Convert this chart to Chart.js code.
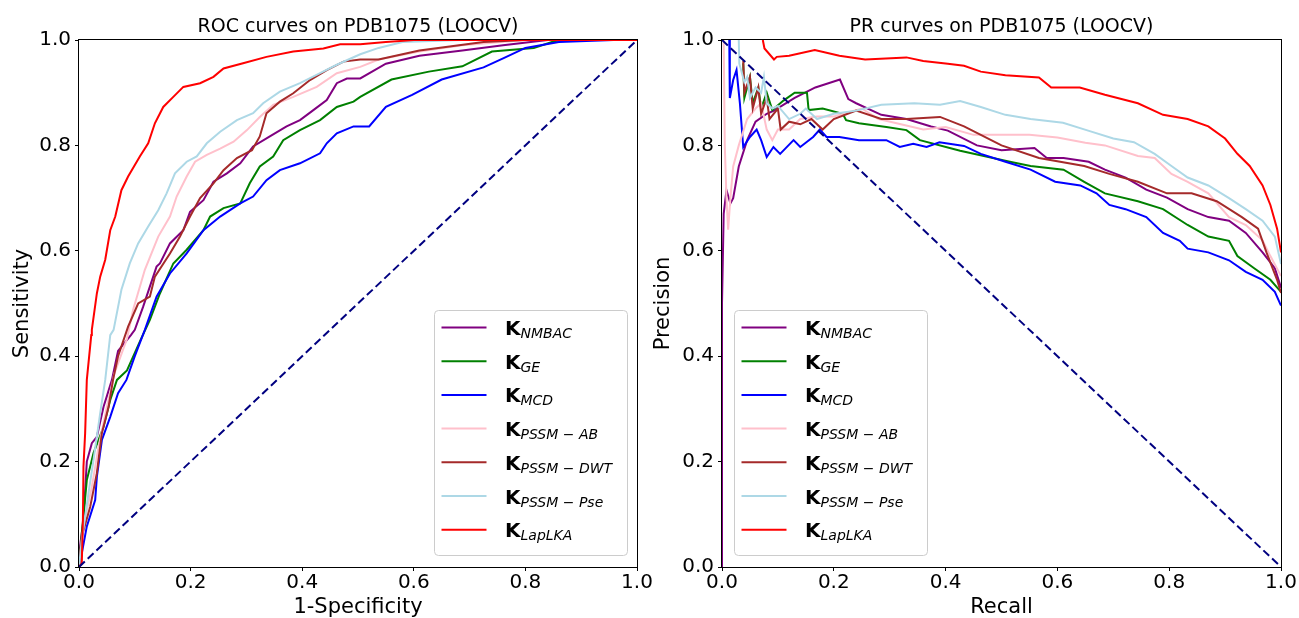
<!DOCTYPE html>
<html>
<head>
<meta charset="utf-8">
<script src="https://cdn.jsdelivr.net/npm/chart.js@4.4.1/dist/chart.umd.min.js"></script>
<style>
  body { margin: 0; background: #fff; width: 1299px; height: 618px; overflow: hidden; position: relative; }
  canvas { position: absolute; top: 0; }
  #rocChart { left: 0; }
  #prChart { left: 650px; }
</style>
</head>
<body>
<canvas id="rocChart" width="662" height="618"></canvas>
<canvas id="prChart" width="649" height="618"></canvas>
<script>
// Kernel names (subscripts of K) and line colours, same order as the legend.
const methods = ['NMBAC', 'GE', 'MCD', 'PSSM \u2212 AB', 'PSSM \u2212 DWT', 'PSSM \u2212 Pse', 'LapLKA'];
const colors = ['purple', 'green', 'blue', 'pink', 'brown', 'lightblue', 'red'];
const tickValues = [0.0, 0.2, 0.4, 0.6, 0.8, 1.0];

// ROC curves: [1-specificity, sensitivity]
const rocNMBAC = [[0,0],[0.002,0.04],[0.008,0.09],[0.014,0.2],[0.023,0.235],[0.032,0.247],[0.044,0.304],[0.059,0.355],[0.07,0.41],[0.093,0.44],[0.1,0.45],[0.115,0.494],[0.139,0.57],[0.145,0.576],[0.163,0.614],[0.187,0.639],[0.199,0.674],[0.223,0.696],[0.241,0.731],[0.265,0.747],[0.289,0.766],[0.312,0.798],[0.342,0.817],[0.372,0.836],[0.396,0.848],[0.42,0.867],[0.444,0.886],[0.462,0.918],[0.48,0.927],[0.504,0.927],[0.55,0.955],[0.61,0.97],[0.687,0.98],[0.76,0.99],[0.84,1.0],[1,1]];
const rocGE = [[0,0],[0.005,0.063],[0.014,0.165],[0.026,0.216],[0.044,0.266],[0.056,0.317],[0.068,0.355],[0.086,0.373],[0.11,0.43],[0.127,0.469],[0.145,0.519],[0.169,0.576],[0.193,0.602],[0.223,0.639],[0.235,0.665],[0.259,0.681],[0.289,0.69],[0.306,0.728],[0.324,0.76],[0.348,0.779],[0.366,0.81],[0.396,0.829],[0.432,0.848],[0.462,0.873],[0.492,0.883],[0.504,0.892],[0.56,0.925],[0.627,0.94],[0.687,0.95],[0.74,0.978],[0.815,0.985],[0.853,0.998],[0.88,1.0],[1,1]];
const rocMCD = [[0,0],[0.005,0.026],[0.014,0.077],[0.029,0.127],[0.032,0.171],[0.041,0.241],[0.056,0.285],[0.07,0.33],[0.085,0.355],[0.1,0.4],[0.118,0.45],[0.139,0.513],[0.163,0.557],[0.193,0.595],[0.223,0.639],[0.253,0.665],[0.289,0.69],[0.312,0.703],[0.336,0.734],[0.36,0.753],[0.396,0.766],[0.432,0.785],[0.444,0.804],[0.462,0.823],[0.492,0.836],[0.52,0.836],[0.55,0.873],[0.597,0.896],[0.65,0.925],[0.725,0.948],[0.762,0.966],[0.8,0.985],[0.86,0.996],[0.958,1.0],[1,1]];
const rocAB = [[0,0],[0.008,0.077],[0.023,0.152],[0.035,0.228],[0.05,0.304],[0.061,0.355],[0.063,0.366],[0.086,0.433],[0.097,0.488],[0.118,0.564],[0.142,0.627],[0.163,0.665],[0.175,0.703],[0.193,0.741],[0.208,0.769],[0.229,0.782],[0.253,0.794],[0.277,0.807],[0.301,0.829],[0.324,0.854],[0.348,0.877],[0.384,0.892],[0.426,0.911],[0.462,0.937],[0.504,0.949],[0.537,0.963],[0.61,0.978],[0.687,0.99],[0.8,1.0],[1,1]];
const rocDWT = [[0,0],[0.005,0.058],[0.02,0.114],[0.032,0.178],[0.041,0.254],[0.053,0.304],[0.061,0.355],[0.07,0.4],[0.088,0.456],[0.106,0.5],[0.127,0.513],[0.136,0.551],[0.163,0.595],[0.181,0.627],[0.199,0.665],[0.217,0.7],[0.241,0.728],[0.259,0.753],[0.283,0.776],[0.31,0.791],[0.324,0.817],[0.336,0.861],[0.36,0.883],[0.384,0.899],[0.414,0.924],[0.444,0.943],[0.474,0.959],[0.504,0.963],[0.537,0.963],[0.61,0.98],[0.725,0.996],[0.8,1.0],[1,1]];
const rocPse = [[0,0],[0.005,0.051],[0.017,0.14],[0.026,0.203],[0.038,0.292],[0.047,0.355],[0.056,0.44],[0.062,0.45],[0.076,0.526],[0.091,0.576],[0.106,0.614],[0.124,0.646],[0.142,0.677],[0.157,0.709],[0.172,0.747],[0.193,0.769],[0.211,0.779],[0.229,0.804],[0.253,0.826],[0.283,0.848],[0.312,0.861],[0.33,0.88],[0.36,0.902],[0.396,0.918],[0.432,0.937],[0.462,0.953],[0.504,0.973],[0.537,0.985],[0.58,0.996],[0.687,1.0],[1,1]];
const rocLapLKA = [[0,0],[0.005,0.007],[0.007,0.09],[0.008,0.19],[0.011,0.254],[0.014,0.355],[0.022,0.44],[0.023,0.45],[0.032,0.519],[0.038,0.551],[0.047,0.583],[0.056,0.639],[0.065,0.665],[0.076,0.715],[0.088,0.741],[0.109,0.779],[0.124,0.804],[0.136,0.842],[0.151,0.873],[0.169,0.892],[0.187,0.911],[0.217,0.918],[0.241,0.93],[0.259,0.946],[0.294,0.956],[0.336,0.968],[0.384,0.978],[0.438,0.984],[0.468,0.992],[0.504,0.992],[0.55,0.996],[0.6,1.0],[1,1]];

// PR curves: [recall, precision]
const prNMBAC = [[0,0],[0,0.5],[0.003,0.67],[0.008,0.715],[0.015,0.69],[0.02,0.7],[0.03,0.76],[0.045,0.81],[0.06,0.845],[0.08,0.86],[0.093,0.866],[0.13,0.89],[0.167,0.91],[0.211,0.925],[0.226,0.888],[0.24,0.88],[0.285,0.858],[0.33,0.85],[0.374,0.836],[0.404,0.828],[0.456,0.8],[0.5,0.791],[0.559,0.795],[0.581,0.776],[0.611,0.776],[0.656,0.769],[0.685,0.754],[0.722,0.739],[0.759,0.716],[0.796,0.701],[0.833,0.679],[0.87,0.664],[0.907,0.657],[0.937,0.634],[0.967,0.597],[0.989,0.567],[1.0,0.53]];
const prGE = [[0.038,0.956],[0.04,0.89],[0.05,0.93],[0.055,0.88],[0.065,0.91],[0.07,0.87],[0.08,0.9],[0.09,0.867],[0.11,0.885],[0.13,0.9],[0.152,0.9],[0.155,0.867],[0.18,0.87],[0.216,0.86],[0.222,0.848],[0.245,0.842],[0.294,0.835],[0.33,0.829],[0.354,0.81],[0.426,0.79],[0.515,0.769],[0.552,0.761],[0.611,0.754],[0.648,0.731],[0.685,0.709],[0.744,0.694],[0.789,0.679],[0.833,0.649],[0.87,0.627],[0.907,0.619],[0.922,0.59],[0.952,0.567],[0.981,0.545],[1.0,0.522]];
const prMCD = [[0.013,1.0],[0.014,0.89],[0.02,0.924],[0.026,0.943],[0.032,0.88],[0.038,0.797],[0.05,0.816],[0.062,0.83],[0.07,0.81],[0.08,0.778],[0.092,0.797],[0.104,0.784],[0.128,0.81],[0.14,0.797],[0.163,0.816],[0.175,0.83],[0.187,0.816],[0.21,0.816],[0.245,0.81],[0.294,0.81],[0.318,0.797],[0.342,0.803],[0.366,0.797],[0.389,0.806],[0.433,0.799],[0.463,0.784],[0.507,0.769],[0.552,0.754],[0.596,0.731],[0.641,0.724],[0.67,0.709],[0.693,0.687],[0.722,0.679],[0.759,0.664],[0.789,0.634],[0.819,0.619],[0.833,0.604],[0.87,0.597],[0.907,0.582],[0.937,0.56],[0.967,0.545],[0.989,0.522],[1.0,0.496]];
const prAB = [[0.003,1.0],[0.005,0.8],[0.008,0.7],[0.011,0.64],[0.015,0.7],[0.02,0.76],[0.03,0.8],[0.045,0.85],[0.06,0.87],[0.07,0.88],[0.08,0.83],[0.09,0.81],[0.1,0.83],[0.12,0.83],[0.14,0.85],[0.17,0.855],[0.2,0.855],[0.25,0.87],[0.28,0.85],[0.32,0.84],[0.36,0.83],[0.4,0.835],[0.45,0.82],[0.5,0.82],[0.55,0.82],[0.6,0.815],[0.65,0.805],[0.685,0.8],[0.744,0.78],[0.774,0.776],[0.804,0.746],[0.833,0.731],[0.87,0.709],[0.907,0.664],[0.937,0.649],[0.967,0.62],[0.981,0.59],[1.0,0.552]];
const prDWT = [[0.038,0.96],[0.04,0.9],[0.05,0.93],[0.055,0.87],[0.065,0.91],[0.07,0.86],[0.08,0.89],[0.085,0.85],[0.1,0.87],[0.105,0.83],[0.12,0.845],[0.14,0.84],[0.16,0.85],[0.18,0.83],[0.2,0.85],[0.24,0.866],[0.285,0.85],[0.33,0.85],[0.39,0.854],[0.433,0.836],[0.5,0.8],[0.567,0.776],[0.648,0.761],[0.693,0.746],[0.744,0.731],[0.796,0.709],[0.84,0.709],[0.885,0.694],[0.93,0.664],[0.959,0.642],[0.974,0.597],[0.993,0.545],[1.0,0.52]];
const prPse = [[0.03,1.0],[0.031,0.955],[0.04,0.92],[0.045,0.93],[0.05,0.89],[0.06,0.91],[0.07,0.9],[0.075,0.93],[0.08,0.88],[0.09,0.87],[0.1,0.875],[0.12,0.85],[0.14,0.86],[0.15,0.87],[0.17,0.85],[0.2,0.86],[0.24,0.866],[0.285,0.877],[0.344,0.88],[0.39,0.877],[0.426,0.884],[0.463,0.873],[0.507,0.858],[0.552,0.85],[0.61,0.843],[0.655,0.828],[0.7,0.813],[0.737,0.806],[0.774,0.784],[0.804,0.761],[0.833,0.739],[0.87,0.724],[0.907,0.7],[0.937,0.679],[0.967,0.657],[0.989,0.627],[1.0,0.575]];
const prLapLKA = [[0.073,1.0],[0.076,0.984],[0.093,0.963],[0.098,0.968],[0.12,0.97],[0.166,0.981],[0.21,0.97],[0.256,0.963],[0.33,0.967],[0.36,0.96],[0.404,0.955],[0.433,0.951],[0.463,0.94],[0.507,0.933],[0.567,0.929],[0.589,0.91],[0.64,0.91],[0.685,0.896],[0.744,0.88],[0.789,0.858],[0.833,0.85],[0.87,0.836],[0.9,0.813],[0.922,0.784],[0.944,0.761],[0.967,0.724],[0.981,0.687],[0.993,0.642],[1.0,0.597]];

const rocSeries = [rocNMBAC, rocGE, rocMCD, rocAB, rocDWT, rocPse, rocLapLKA];
const prSeries = [prNMBAC, prGE, prMCD, prAB, prDWT, prPse, prLapLKA];
const rocDiagonal = [[0, 0], [1, 1]];
const prDiagonal = [[0, 1], [1, 0]];

const FONT = '"DejaVu Sans", sans-serif';

// draws the title, the four spines and a matplotlib style legend
const mplPlugin = {
    id: 'mpl',
    afterDatasetsDraw(chart, args, opts) {
        const ctx = chart.ctx;
        const a = chart.chartArea;
        ctx.save();
        ctx.strokeStyle = '#000';
        ctx.lineWidth = 1;
        ctx.strokeRect(a.left - 0.5, a.top - 0.5, a.right - a.left + 1, a.bottom - a.top + 1);

        ctx.fillStyle = '#000';
        ctx.font = '19px ' + FONT;
        ctx.textAlign = 'center';
        ctx.textBaseline = 'alphabetic';
        ctx.fillText(opts.title, (a.left + a.right) / 2, 32);

        const w = 193, h = 245;
        const x0 = opts.legendSide === 'right' ? a.right - 10 - w : a.left + 12;
        const y0 = a.bottom - 12 - h;
        ctx.beginPath();
        if (ctx.roundRect) ctx.roundRect(x0 + 0.5, y0 + 0.5, w, h, 4);
        else ctx.rect(x0 + 0.5, y0 + 0.5, w, h);
        ctx.fillStyle = 'rgba(255,255,255,0.8)';
        ctx.fill();
        ctx.strokeStyle = '#cccccc';
        ctx.stroke();

        ctx.textAlign = 'left';
        methods.forEach((m, i) => {
            const ry = y0 + 17.5 + i * 33.7;
            ctx.beginPath();
            ctx.moveTo(x0 + 7.5, ry);
            ctx.lineTo(x0 + 52.5, ry);
            ctx.strokeStyle = colors[i];
            ctx.lineWidth = 2;
            ctx.stroke();
            ctx.fillStyle = '#000';
            ctx.font = 'bold 20px ' + FONT;
            ctx.fillText('K', x0 + 71, ry + 7.5);
            const kw = ctx.measureText('K').width;
            ctx.font = 'italic 14px ' + FONT;
            ctx.fillText(m, x0 + 71 + kw, ry + 10.5);
        });
        ctx.restore();
    }
};

function axis(title, fitSize, isX, titlePad) {
    return {
        type: 'linear',
        min: 0,
        max: 1,
        afterBuildTicks: (scale) => { scale.ticks = tickValues.map(v => ({ value: v })); },
        afterFit: (scale) => { if (isX) scale.height = fitSize; else scale.width = fitSize; },
        ticks: {
            color: '#000',
            font: { family: FONT, size: 20 },
            padding: isX ? 0 : 4,
            maxRotation: 0,
            autoSkip: false,
            callback: (v) => Number(v).toFixed(1)
        },
        grid: { drawOnChartArea: false, drawTicks: true, tickLength: 4, color: '#000' },
        border: { display: false },
        title: {
            display: true,
            text: title,
            color: '#000',
            font: { family: FONT, size: 21, lineHeight: 1.0 },
            padding: titlePad
        }
    };
}

function makeChart(id, series, diagonal, opts) {
    const datasets = series.map((pts, i) => ({
        label: 'K ' + methods[i],
        data: pts.map(p => ({ x: p[0], y: p[1] })),
        borderColor: colors[i],
        borderWidth: 2,
        order: 7 - i
    }));
    datasets.push({
        label: 'diagonal',
        data: diagonal.map(p => ({ x: p[0], y: p[1] })),
        borderColor: 'navy',
        borderWidth: 2,
        borderDash: [8, 4],
        order: 0
    });
    return new Chart(document.getElementById(id), {
        type: 'scatter',
        data: { datasets: datasets },
        options: {
            responsive: false,
            animation: false,
            showLine: true,
            elements: { point: { radius: 0, hoverRadius: 0 }, line: { tension: 0, fill: false } },
            layout: { padding: { top: 40, left: 0, right: opts.padRight, bottom: 0 } },
            scales: {
                x: axis(opts.xTitle, 51, true, { top: 0, bottom: 0 }),
                y: axis(opts.yTitle, opts.yWidth, false, { top: opts.yTitlePad, bottom: 0 })
            },
            plugins: {
                legend: { display: false },
                tooltip: { enabled: false },
                mpl: { title: opts.title, legendSide: opts.legendSide }
            }
        },
        plugins: [mplPlugin]
    });
}

const rocChart = makeChart('rocChart', rocSeries, rocDiagonal, {
    title: 'ROC curves on PDB1075 (LOOCV)',
    xTitle: '1-Specificity',
    yTitle: 'Sensitivity',
    yWidth: 79,
    yTitlePad: 12,
    padRight: 25,
    legendSide: 'right'
});

const prChart = makeChart('prChart', prSeries, prDiagonal, {
    title: 'PR curves on PDB1075 (LOOCV)',
    xTitle: 'Recall',
    yTitle: 'Precision',
    yWidth: 72,
    yTitlePad: 3,
    padRight: 18,
    legendSide: 'left'
});
</script>
</body>
</html>
